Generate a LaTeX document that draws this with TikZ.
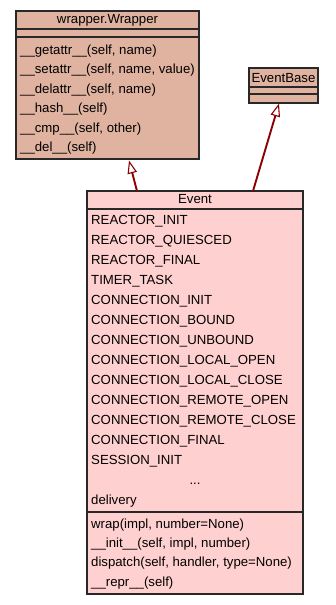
\documentclass[tikz,border=0pt]{standalone}
\usepackage{fontspec}
\setmainfont{Liberation Sans}
\usetikzlibrary{arrows.meta,calc}
\definecolor{baseclass}{RGB}{224,178,160}
\definecolor{mainclass}{RGB}{255,208,208}
\definecolor{inherit}{RGB}{139,0,0}
\definecolor{frame}{RGB}{40,40,40}
\begin{document}
\begin{tikzpicture}[x=1pt,y=-1pt,
  umlbox/.style={draw=frame, line width=1.1pt, inner sep=0pt, outer sep=0pt, anchor=north west},
  sepline/.style={draw=frame, line width=1.1pt},
  member/.style={anchor=base west, inner sep=0pt, font=\fontsize{13.2}{15}\selectfont},
  title/.style={anchor=base, inner sep=0pt, font=\fontsize{13.2}{15}\selectfont},
  isa/.style={draw=inherit, line width=1.9pt,
    -{Triangle[open, length=13pt, width=9.5pt, line width=1.1pt, fill=white]}}]
\useasboundingbox (0,0) rectangle (335,605);

% wrapper.Wrapper
\node[umlbox, fill=baseclass, minimum width=183pt, minimum height=148pt] (wrapper) at (16,11) {};
\draw[sepline] (16,29) -- (199,29);
\draw[sepline] (16,37) -- (199,37);
\node[title] (wt) at (107.5,23.5) {wrapper.Wrapper};
\foreach \t [count=\i from 0] in {%
  \_\_getattr\_\_(self{,} name),
  \_\_setattr\_\_(self{,} name{,} value),
  \_\_delattr\_\_(self{,} name),
  \_\_hash\_\_(self),
  \_\_cmp\_\_(self{,} other),
  \_\_del\_\_(self)}
  \node[member] (wm\i) at (20,{54+19.5*\i}) {\t};

% EventBase
\node[umlbox, fill=baseclass, minimum width=69pt, minimum height=35pt] (eventbase) at (249,68) {};
\draw[sepline] (249,87) -- (318,87);
\draw[sepline] (249,94) -- (318,94);
\node[title] (ebt) at (283.5,82) {EventBase};

% Event
\node[umlbox, fill=mainclass, minimum width=216pt, minimum height=403pt] (event) at (87,191) {};
\draw[sepline] (87,209) -- (303,209);
\draw[sepline] (87,512) -- (303,512);
\node[title] (et) at (195,203) {Event};
\foreach \t [count=\i from 0] in {%
  REACTOR\_INIT, REACTOR\_QUIESCED, REACTOR\_FINAL, TIMER\_TASK,
  CONNECTION\_INIT, CONNECTION\_BOUND, CONNECTION\_UNBOUND,
  CONNECTION\_LOCAL\_OPEN, CONNECTION\_LOCAL\_CLOSE,
  CONNECTION\_REMOTE\_OPEN, CONNECTION\_REMOTE\_CLOSE,
  CONNECTION\_FINAL, SESSION\_INIT}
  \node[member] (ea\i) at (91,{224+20*\i}) {\t};
\node[title] (edots) at (195,484) {...};
\node[member] (edel) at (91,504.5) {delivery};
\foreach \t [count=\i from 0] in {%
  wrap(impl{,} number=None),
  \_\_init\_\_(self{,} impl{,} number),
  dispatch(self{,} handler{,} type=None),
  \_\_repr\_\_(self)}
  \node[member] (em\i) at (91,{528+19.4*\i}) {\t};

% inheritance arrows
\draw[isa] ($(event.north west)+(50,0)$) -- ($(wrapper.south west)+(113,1.5)$);
\draw[isa] ($(event.north west)+(166,0)$) -- ($(eventbase.south west)+(30,0.5)$);
\end{tikzpicture}
\end{document}
